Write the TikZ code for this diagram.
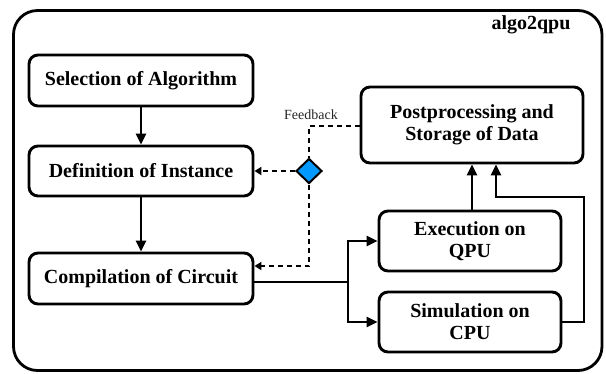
\documentclass[tikz,border=0pt]{standalone}
\usepackage{fontspec}
\setmainfont{Liberation Serif}
\usetikzlibrary{arrows.meta,shapes.geometric,calc}
\tikzset{
  box/.style={draw=black, line width=2.9pt, rounded corners=9pt, fill=white,
    inner sep=0pt, align=center, font=\fontsize{20}{22}\selectfont\bfseries},
  conn/.style={line width=2.9pt, -{Triangle[length=11pt,width=10pt]}},
  line/.style={line width=2.9pt},
  fb/.style={line width=2.3pt, dash pattern=on 5pt off 4pt},
  fbarrow/.style={fb, -{Triangle[length=7pt,width=8pt]}},
}
\begin{document}
\begin{tikzpicture}[x=1pt,y=-1pt]
\useasboundingbox (0,0) rectangle (606,373);
\draw[line width=2.8pt, rounded corners=24pt] (13.5,10.5) rectangle (602,370.5);
\node[font=\fontsize{20}{22}\selectfont\bfseries, anchor=east] (title) at (574,25) {algo2qpu};

\node[box, minimum width=224pt, minimum height=51pt] (sel) at (141,80.5) {Selection of Algorithm};
\node[box, minimum width=224pt, minimum height=50pt] (def) at (141,171) {Definition of Instance};
\node[box, minimum width=224pt, minimum height=51pt] (comp) at (141,278.5) {Compilation of Circuit};
\node[box, minimum width=222pt, minimum height=76pt] (post) at (472,125) {Postprocessing and\\Storage of Data};
\node[box, minimum width=182pt, minimum height=60pt] (exe) at (470,241) {Execution on\\QPU};
\node[box, minimum width=182pt, minimum height=60pt] (sim) at (470,322) {Simulation on\\CPU};
\node[diamond, draw=black, line width=2pt, fill={rgb,255:red,0;green,153;blue,255}, minimum width=26pt, minimum height=25pt, inner sep=0pt] (dia) at (309,171) {};
\node[font=\fontsize{14}{16}\selectfont, text=black!85] (fbl) at (311,115) {Feedback};

\draw[conn] (sel) -- (def);
\draw[conn] (def) -- (comp);

\coordinate (j) at (348,282);
\draw[line] ([yshift=-3.5pt]comp.east) -- (j);
\draw[conn] (j) |- (exe.west);
\draw[conn] (j) |- (sim.west);
\draw[conn] ([xshift=2pt]exe.north) -- ([xshift=2pt]exe.north |- post.south);
\coordinate (r1) at (584,197);
\coordinate (r2) at (496,197);
\draw[conn] (sim.east) -| (r1) -- (r2) -- (r2 |- post.south);

\draw[fb] ([yshift=-1pt]post.west) -| (dia.north);
\draw[fbarrow] (dia.west) -- (def.east);
\draw[fbarrow] (dia.south) |- ([yshift=12.5pt]comp.east);
\end{tikzpicture}
\end{document}
